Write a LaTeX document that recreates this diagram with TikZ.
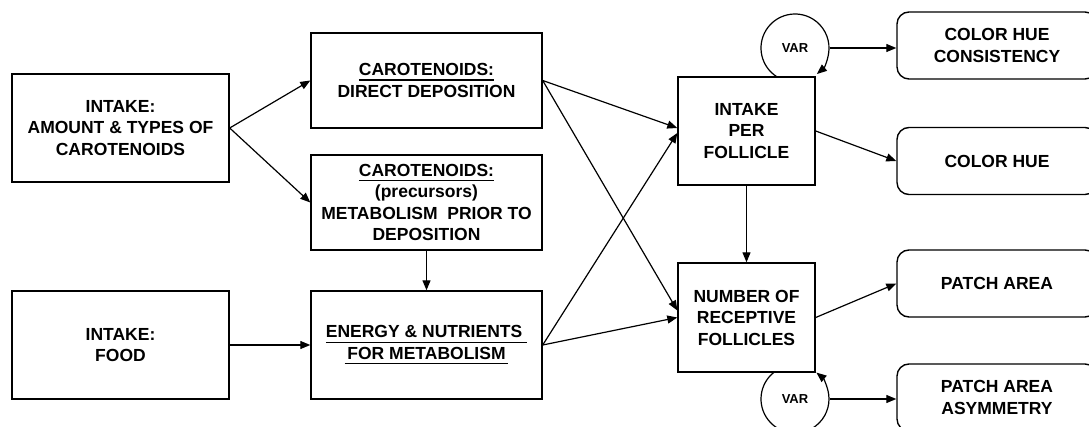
\documentclass[tikz,border=0pt]{standalone}
\usepackage{fontspec}
\setmainfont{Liberation Sans}
\usetikzlibrary{arrows.meta}
\newcommand{\undl}[1]{\setbox0=\hbox{#1}\rlap{\vrule width\wd0 height -3.6pt depth 4.9pt}\box0}

\begin{document}
\begin{tikzpicture}[x=1pt, y=-1pt, line width=1.2pt, >={Triangle[length=10pt, width=8pt]},
        main/.style = {draw, rectangle, line width=1.4pt, fill=white, align=center, inner sep=0pt,
                       font=\fontsize{17.5}{21.5}\selectfont\bfseries},
        soft/.style = {main, rounded corners=12pt, minimum width=200pt, minimum height=67pt},
        var/.style  = {circle, minimum size=68pt, inner sep=0pt, font=\fontsize{13}{15}\selectfont\bfseries}]
        \useasboundingbox (0,0) rectangle (1089,427);
        \clip (0,0) rectangle (1089,427);

        \node[main, minimum width=217pt, minimum height=108pt] (1) at (120.5,128)  {INTAKE:\\AMOUNT \& TYPES OF\\CAROTENOIDS};
        \node[main, minimum width=217pt, minimum height=108pt] (2) at (120.5,345)  {INTAKE:\\FOOD};
        \node[main, minimum width=231pt, minimum height=95pt]  (3) at (426.5,80.5) {\undl{CAROTENOIDS:}\\DIRECT DEPOSITION};
        \node[main, minimum width=231pt, minimum height=95pt]  (4) at (426.5,202.5) {\undl{CAROTENOIDS:}\\(precursors)\\METABOLISM~ PRIOR TO\\DEPOSITION};
        \node[main, minimum width=231pt, minimum height=108pt] (5) at (426.5,345)  {\undl{ENERGY \& NUTRIENTS\ }\\\undl{\,FOR METABOLISM\,}};
        \node[main, minimum width=137pt, minimum height=108pt] (6) at (746.5,131)  {INTAKE\\PER\\FOLLICLE};
        \node[main, minimum width=137pt, minimum height=109pt] (7) at (746.5,317.5) {NUMBER OF\\RECEPTIVE\\FOLLICLES};

        \node[soft] (8)  at (997,45.5)  {COLOR HUE\\CONSISTENCY};
        \node[soft] (9)  at (997,161)   {COLOR HUE};
        \node[soft] (10) at (997,283.5) {PATCH AREA};
        \node[soft] (11) at (997,397.5) {PATCH AREA\\ASYMMETRY};

        \node[var] (v1) at (795,48)  {VAR};
        \node[var] (v2) at (795,399) {VAR};

        \draw[->] (1.east) -- (3.west);
        \draw[->] (1.east) -- (4.west);
        \draw[->] (2) -- (5);
        \draw[->] (4) -- (5);
        \draw[->] (3.east) -- ([yshift=3pt]6.west);
        \draw[->] (3.east) -- ([yshift=7pt]7.west);
        \draw[->] (5.east) -- ([yshift=-2pt]6.west);
        \draw[->] (5.east) -- (7.west);
        \draw[->] (6) -- (7);
        \draw[->] (6.east) -- (9.west);
        \draw[->] (7.east) -- (10.west);

        % variability loops
        \draw[->] (v1) ++(122:34) arc[start angle=122, end angle=410, radius=34];
        \draw[->] (v2) ++(232:34) arc[start angle=232, end angle=-51, radius=34];
        \draw[->] (v1.east) -- (v1.east -| 8.west);
        \draw[->] (v2.east) -- (v2.east -| 11.west);

    \end{tikzpicture}
\end{document}
